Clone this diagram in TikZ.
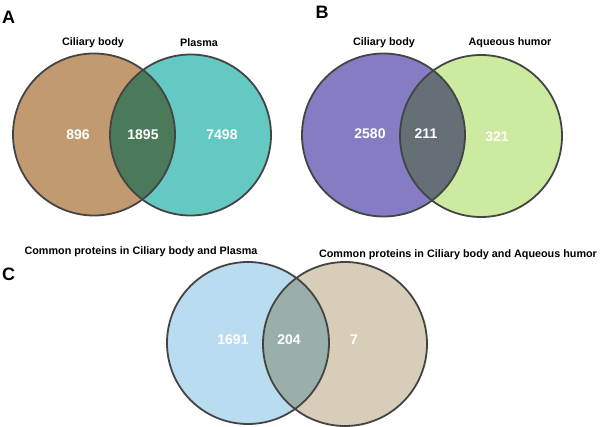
\documentclass[tikz,border=0pt]{standalone}
\usepackage{fontspec}
\setmainfont{Liberation Sans}
\definecolor{aL}{RGB}{193,154,112}
\definecolor{aR}{RGB}{100,200,195}
\definecolor{aI}{RGB}{75,122,90}
\definecolor{bL}{RGB}{133,125,195}
\definecolor{bR}{RGB}{205,235,160}
\definecolor{bI}{RGB}{100,112,118}
\definecolor{cL}{RGB}{186,220,240}
\definecolor{cR}{RGB}{216,205,185}
\definecolor{cI}{RGB}{155,175,170}
\definecolor{edge}{RGB}{68,68,68}
\tikzset{
  setline/.style={draw=edge, line width=1.8pt},
  settitle/.style={font=\bfseries\fontsize{10.8}{12}\selectfont, text=black, inner sep=0pt},
  setnum/.style={font=\bfseries\fontsize{14}{16}\selectfont, text=white, inner sep=0pt},
  panellabel/.style={font=\bfseries\fontsize{18}{20}\selectfont, text=black, inner sep=0pt}
}
\newcommand{\venn}[8]{%
  % #1 left center, #2 left r, #3 right center, #4 right r, #5 #6 #7 colours
  \fill[#5] #1 circle (#2);
  \fill[#6] #3 circle (#4);
  \begin{scope}
    \clip #1 circle (#2);
    \fill[#7] #3 circle (#4);
  \end{scope}
  \draw[setline] #1 circle (#2);
  \draw[setline] #3 circle (#4);
}
\begin{document}
\begin{tikzpicture}[x=1pt,y=-1pt]
\useasboundingbox[fill=white] (0,0) rectangle (600,427);
% Panel A
\venn{(94,134.5)}{81}{(190.5,135)}{80.5}{aL}{aR}{aI}{}
\node[panellabel] (pA) at (8.5,17) {A};
\node[settitle] (tA1) at (93,43) {Ciliary body};
\node[settitle] (tA2) at (199,43) {Plasma};
\node[setnum] (nA1) at (78,135) {896};
\node[setnum] (nA2) at (143,135) {1895};
\node[setnum] (nA3) at (222,135) {7498};
% Panel B
\venn{(383.5,135)}{81.5}{(481,136)}{81}{bL}{bR}{bI}{}
\node[panellabel] (pB) at (322,12) {B};
\node[settitle] (tB1) at (384,43) {Ciliary body};
\node[settitle] (tB2) at (510,43) {Aqueous humor};
\node[setnum] (nB1) at (370,134) {2580};
\node[setnum] (nB2) at (426,134) {211};
\node[setnum] (nB3) at (497,137) {321};
% Panel C
\venn{(248,343)}{81}{(345,344)}{82}{cL}{cR}{cI}{}
\node[panellabel] (pC) at (8.5,274) {C};
\node[settitle] (tC1) at (141,252) {Common proteins in Ciliary body and Plasma};
\node[settitle] (tC2) at (458,255) {Common proteins in Ciliary body and Aqueous humor};
\node[setnum] (nC1) at (233,340) {1691};
\node[setnum] (nC2) at (289,340) {204};
\node[setnum] (nC3) at (354,340) {7};
\end{tikzpicture}
\end{document}
